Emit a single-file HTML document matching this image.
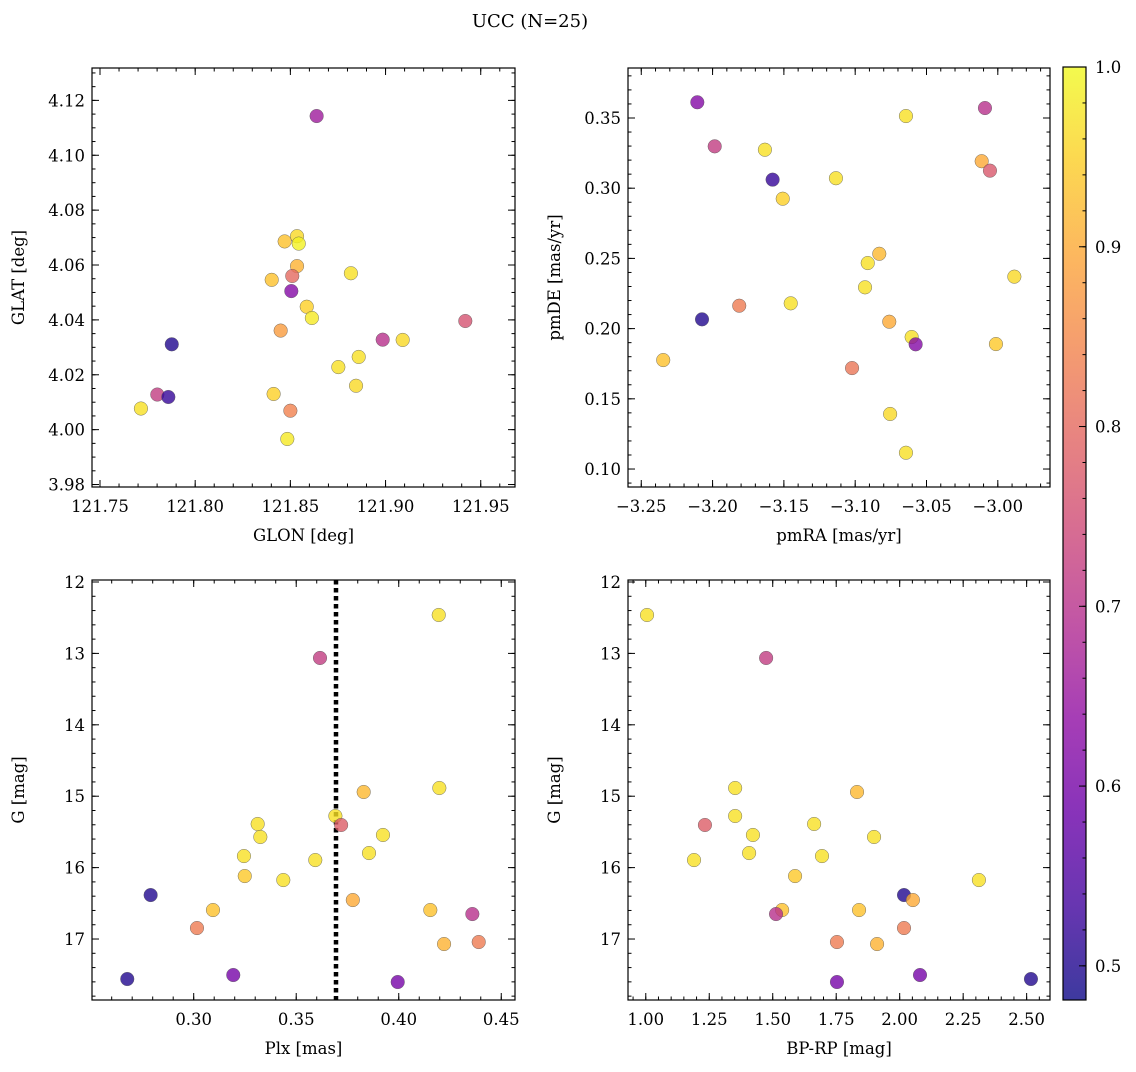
<!DOCTYPE html>
<html><head><meta charset="utf-8"><style>
body{margin:0;background:#fff}
svg text{font-family:"DejaVu Serif","Liberation Serif",serif;fill:#000}
</style></head><body>
<svg id="fig" width="1136" height="1067" xmlns="http://www.w3.org/2000/svg">
<text x="530" y="27" font-size="18" text-anchor="middle">UCC (N=25)</text>
</svg>
<script>
// Panel 1: GLON vs GLAT
const glon1=[121.8638,121.8535,121.8470,121.8544,121.8535,121.8402,121.8510,121.8818,121.8505,121.8586,121.8613,121.8449,121.9419,121.8985,121.9090,121.7877,121.8752,121.8859,121.7801,121.8412,121.7859,121.8845,121.7715,121.8500,121.8484];
const glat1=[4.1143,4.0705,4.0686,4.0678,4.0596,4.0546,4.0560,4.0570,4.0505,4.0448,4.0407,4.0361,4.0396,4.0328,4.0327,4.0311,4.0228,4.0265,4.0128,4.0130,4.0119,4.0160,4.0077,4.0069,3.9966];
const prob1=[0.66,0.96,0.93,0.99,0.91,0.93,0.80,0.97,0.62,0.95,0.98,0.88,0.76,0.70,0.96,0.50,0.97,0.97,0.72,0.95,0.52,0.96,0.97,0.84,0.98];
// Panel 2: pmRA vs pmDE
const pmra2=[-3.2107,-3.1985,-3.1633,-3.1579,-3.1508,-3.1135,-3.0644,-3.0090,-3.0113,-3.0055,-3.0831,-3.0912,-3.0931,-2.9884,-3.1452,-3.1813,-3.2074,-3.2346,-3.0761,-3.0604,-3.0576,-3.0013,-3.1022,-3.0755,-3.0644];
const pmde2=[0.3612,0.3298,0.3274,0.3061,0.2925,0.3071,0.3514,0.3571,0.3192,0.3125,0.2533,0.2467,0.2294,0.2370,0.2180,0.2163,0.2066,0.1776,0.2049,0.1940,0.1888,0.1890,0.1719,0.1392,0.1116];
const prob2=[0.62,0.72,0.97,0.52,0.95,0.97,0.97,0.70,0.90,0.77,0.92,0.97,0.97,0.96,0.97,0.83,0.50,0.93,0.90,0.97,0.62,0.94,0.82,0.96,0.97];
// Panel 3: Plx vs G
const plx3=[0.4195,0.3616,0.3691,0.3719,0.3829,0.4198,0.3312,0.3325,0.3923,0.3245,0.3855,0.3593,0.3249,0.3437,0.2790,0.3776,0.3094,0.4154,0.4359,0.3016,0.4221,0.4390,0.2676,0.3193,0.3995];
const g3=[12.462,13.064,15.277,15.403,14.941,14.885,15.389,15.571,15.543,15.838,15.796,15.894,16.118,16.174,16.384,16.454,16.594,16.594,16.650,16.846,17.070,17.042,17.560,17.504,17.602];
const prob3=[0.97,0.72,0.97,0.78,0.92,0.97,0.97,0.97,0.97,0.97,0.97,0.97,0.94,0.97,0.50,0.90,0.93,0.93,0.70,0.83,0.91,0.83,0.50,0.60,0.60];
const plxLine=[0.3694];
// Panel 4: BP-RP vs G
const bprp4=[1.005,1.474,1.352,1.352,1.233,1.832,1.422,1.663,1.899,1.190,1.407,1.694,1.588,2.312,2.017,2.052,1.537,1.513,1.840,2.017,1.753,1.911,1.753,2.080,2.517];
const g4=[12.462,13.064,14.885,15.277,15.403,14.941,15.543,15.389,15.571,15.894,15.796,15.838,16.118,16.174,16.384,16.454,16.594,16.650,16.594,16.846,17.042,17.070,17.602,17.504,17.560];
const prob4=[0.97,0.72,0.97,0.97,0.78,0.92,0.97,0.97,0.97,0.97,0.97,0.97,0.94,0.97,0.50,0.90,0.93,0.70,0.93,0.83,0.83,0.91,0.60,0.60,0.50];
// ticks
const xt1=[121.75,121.80,121.85,121.90,121.95], yt1=[3.98,4.00,4.02,4.04,4.06,4.08,4.10,4.12];
const xt2=[-3.25,-3.20,-3.15,-3.10,-3.05,-3.00], yt2=[0.10,0.15,0.20,0.25,0.30,0.35];
const xt3=[0.30,0.35,0.40,0.45], yt3=[12,13,14,15,16,17];
const xt4=[1.00,1.25,1.50,1.75,2.00,2.25,2.50], yt4=[12,13,14,15,16,17];
const cbTicks=[0.5,0.6,0.7,0.8,0.9,1.0];
const cmin=0.481,cmax=1.0;

const NS="http://www.w3.org/2000/svg";
const svg=document.getElementById('fig');
function mk(tag,attrs,parent){const e=document.createElementNS(NS,tag);for(const k in attrs)e.setAttribute(k,attrs[k]);(parent||svg).appendChild(e);return e;}
const stops=[[13,8,135],[65,4,157],[106,0,168],[143,13,164],[177,42,144],[204,71,120],[225,100,98],[242,132,75],[252,166,54],[252,206,37],[240,249,33]];
function plasma(t){t=Math.max(0,Math.min(1,t))*10;const i=Math.min(9,Math.floor(t)),f=t-i;const a=stops[i],b=stops[i+1];return 'rgb('+a.map((v,k)=>Math.round(v+(b[k]-v)*f)).join(',')+')';}
function cnorm(c){return (c-cmin)/(cmax-cmin);}

function panel(o){
  const g=mk('g',{});
  
  
  const sx=v=>o.x0+(v-o.xmin)/(o.xmax-o.xmin)*(o.x1-o.x0);
  const sy=v=>o.inv? o.y0+(v-o.ymin)/(o.ymax-o.ymin)*(o.y1-o.y0) : o.y1-(v-o.ymin)/(o.ymax-o.ymin)*(o.y1-o.y0);
  for(let v=Math.ceil(o.xmin/o.xm-1e-6)*o.xm; v<=o.xmax+1e-9; v+=o.xm){const x=sx(v);
    mk('line',{x1:x,x2:x,y1:o.y1,y2:o.y1-3.5,stroke:'#000','stroke-width':1},g);
    mk('line',{x1:x,x2:x,y1:o.y0,y2:o.y0+3.5,stroke:'#000','stroke-width':1},g);}
  for(let v=Math.ceil(o.ymin/o.ym-1e-6)*o.ym; v<=o.ymax+1e-9; v+=o.ym){const y=sy(v);
    mk('line',{x1:o.x0,x2:o.x0+3.5,y1:y,y2:y,stroke:'#000','stroke-width':1},g);
    mk('line',{x1:o.x1,x2:o.x1-3.5,y1:y,y2:y,stroke:'#000','stroke-width':1},g);}
  o.xt.forEach(v=>{const x=sx(v);
    mk('line',{x1:x,x2:x,y1:o.y1,y2:o.y1-7,stroke:'#000','stroke-width':1},g);
    mk('line',{x1:x,x2:x,y1:o.y0,y2:o.y0+7,stroke:'#000','stroke-width':1},g);
    const t=mk('text',{x:x,y:o.y1+25,'font-size':16.5,'text-anchor':'middle'},g);t.textContent=v.toFixed(o.xd).replace('-','\u2212');
    
    });
  o.yt.forEach(v=>{const y=sy(v);
    mk('line',{x1:o.x0,x2:o.x0+7,y1:y,y2:y,stroke:'#000','stroke-width':1},g);
    mk('line',{x1:o.x1,x2:o.x1-7,y1:y,y2:y,stroke:'#000','stroke-width':1},g);
    const t=mk('text',{x:o.x0-7,y:y+6,'font-size':16.5,'text-anchor':'end'},g);t.textContent=v.toFixed(o.yd);
    
    });
  if(o.vline){o.vline.forEach(v=>{const l=mk('line',{x1:sx(v),x2:sx(v),y1:o.y0,y2:o.y1,stroke:'#000','stroke-width':4.5,'stroke-dasharray':'4.5,3.5'},g);
    
    });}
  o.xs.forEach((xv,i)=>{const c=mk('circle',{cx:sx(xv),cy:sy(o.ys[i]),r:6.8,fill:plasma(cnorm(o.cs[i])),'fill-opacity':0.8,stroke:'#555','stroke-width':0.5,'stroke-opacity':0.8},g);
    
    });
  mk('rect',{x:o.x0,y:o.y0,width:o.x1-o.x0,height:o.y1-o.y0,fill:'none',stroke:'#000','stroke-width':1.2},g);
  const xl=mk('text',{x:(o.x0+o.x1)/2,y:o.y1+54,'font-size':16.5,'text-anchor':'middle'},g);xl.textContent=o.xlab;
  
  
  const yc=(o.y0+o.y1)/2, yx=o.x0-68;
  const yl=mk('text',{x:yx,y:yc,'font-size':16.5,'text-anchor':'middle',transform:`rotate(-90 ${yx} ${yc})`},g);yl.textContent=o.ylab;
  
  
}
panel({name:'glon-glat-panel',x0:92,x1:515,y0:68,y1:487,xmin:121.7458,xmax:121.968,ymin:3.9791,ymax:4.1318,xm:0.01,ym:0.005,xt:xt1,yt:yt1,xd:2,yd:2,xs:glon1,ys:glat1,cs:prob1,xlab:'GLON [deg]',ylab:'GLAT [deg]'});
panel({name:'pm-panel',x0:628,x1:1050,y0:68,y1:487,xmin:-3.2593,xmax:-2.9634,ymin:0.0872,ymax:0.3856,xm:0.01,ym:0.01,xt:xt2,yt:yt2,xd:2,yd:2,xs:pmra2,ys:pmde2,cs:prob2,xlab:'pmRA [mas/yr]',ylab:'pmDE [mas/yr]'});
panel({name:'plx-g-panel',x0:92,x1:515,y0:580,y1:1000,inv:true,xmin:0.2504,xmax:0.4567,ymin:11.972,ymax:17.854,xm:0.01,ym:0.2,xt:xt3,yt:yt3,xd:2,yd:0,xs:plx3,ys:g3,cs:prob3,vline:plxLine,xlab:'Plx [mas]',ylab:'G [mag]'});
panel({name:'cmd-panel',x0:628,x1:1050,y0:580,y1:1000,inv:true,xmin:0.930,xmax:2.592,ymin:11.972,ymax:17.854,xm:0.05,ym:0.2,xt:xt4,yt:yt4,xd:2,yd:0,xs:bprp4,ys:g4,cs:prob4,xlab:'BP-RP [mag]',ylab:'G [mag]'});

// colorbar
const cb=mk('g',{});


const defs=mk('defs',{},cb);
const lg=mk('linearGradient',{id:'pl',x1:0,y1:1,x2:0,y2:0},defs);
for(let i=0;i<=20;i++){mk('stop',{offset:i/20,'stop-color':plasma(i/20)},lg);}
const cy0=67,cy1=1000,cx0=1063,cx1=1086;
mk('rect',{x:cx0,y:cy0,width:cx1-cx0,height:cy1-cy0,fill:'url(#pl)','fill-opacity':0.8},cb);
mk('rect',{x:cx0,y:cy0,width:cx1-cx0,height:cy1-cy0,fill:'none',stroke:'#000','stroke-width':1.2},cb);
const cyv=v=>cy1-(v-cmin)/(cmax-cmin)*(cy1-cy0);
for(let v=0.5;v<=1.0001;v+=0.02){const y=cyv(v);mk('line',{x1:cx1,x2:cx1-3.5,y1:y,y2:y,stroke:'#000'},cb);}
cbTicks.forEach(v=>{const y=cyv(v);mk('line',{x1:cx1,x2:cx1-7,y1:y,y2:y,stroke:'#000'},cb);
  const t=mk('text',{x:cx1+9,y:y+6,'font-size':16.5},cb);t.textContent=v.toFixed(1);
  
  });
</script>
</body></html>
